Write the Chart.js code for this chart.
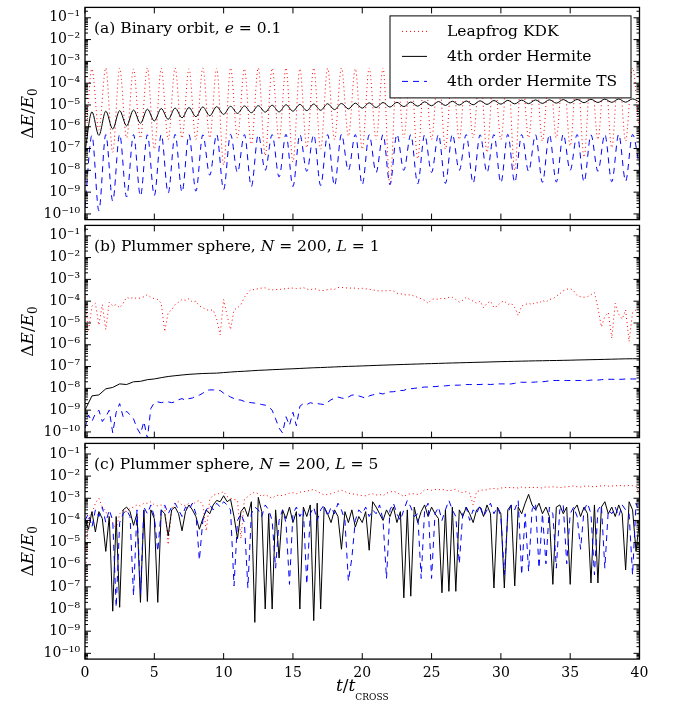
<!DOCTYPE html>
<html>
<head>
<meta charset="utf-8">
<title>Energy error</title>
<script src="https://cdn.jsdelivr.net/npm/chart.js@4.4.1/dist/chart.umd.min.js"></script>
<style>
  body { margin: 0; background: #fff; }
  #wrap { position: relative; width: 674px; height: 706px; overflow: hidden; }
  #wrap canvas { position: absolute; left: 0; }
</style>
</head>
<body>
<div id="wrap">
  <canvas id="panelA"></canvas>
  <canvas id="panelB"></canvas>
  <canvas id="panelC"></canvas>
</div>
<script>
// ---- data ----
const seriesNames = ["Leapfrog KDK", "4th order Hermite", "4th order Hermite TS"];
const xTicks = [0, 5, 10, 15, 20, 25, 30, 35, 40];
const yTicks = [1e-1, 1e-2, 1e-3, 1e-4, 1e-5, 1e-6, 1e-7, 1e-8, 1e-9, 1e-10];
const yTickLabels = ["10⁻¹", "10⁻²", "10⁻³", "10⁻⁴", "10⁻⁵", "10⁻⁶", "10⁻⁷", "10⁻⁸", "10⁻⁹", "10⁻¹⁰"];

// panel titles, [text, style] pieces ('i' = italic)
const panelTitles = [
  [["(a) Binary orbit, ", "r"], ["e", "i"], [" = 0.1", "r"]],
  [["(b) Plummer sphere, ", "r"], ["N", "i"], [" = 200, ", "r"], ["L", "i"], [" = 1", "r"]],
  [["(c) Plummer sphere, ", "r"], ["N", "i"], [" = 200, ", "r"], ["L", "i"], [" = 5", "r"]]
];
const yTitle = [["Δ", "r"], ["E", "i"], ["/", "r"], ["E", "i"], ["0", "sub"]];
const xTitle = [["t", "i"], ["/", "r"], ["t", "i"], ["CROSS", "small"]];

// sample times in t_cross
const tHalf = Array.from({ length: 81 }, (_, i) => i * 0.5);
const tQuarter = Array.from({ length: 161 }, (_, i) => i * 0.25);

// (a) binary orbit, sampled every 0.5
const aLeapfrog = [
  5e-8, 4.5e-4, 7e-7, 5e-4, 6.7e-8, 5e-4, 3.1e-7, 4.5e-4, 3e-7, 5e-4,
  9.4e-8, 4.8e-4, 2.6e-7, 5e-4, 3e-7, 4.6e-4, 2.6e-7, 5e-4, 3.1e-7, 4.8e-4,
  1.8e-8, 5e-4, 3.1e-7, 4.6e-4, 1.6e-7, 5e-4, 4.8e-8, 4.8e-4, 2.6e-7, 5e-4,
  2.4e-8, 4.6e-4, 1.1e-7, 5e-4, 9.4e-8, 4.8e-4, 2.6e-7, 5e-4, 3.7e-7, 4.6e-4,
  9.4e-8, 5e-4, 2.6e-7, 5e-4, 2.2e-9, 4.8e-4, 3.1e-7, 5e-4, 3.4e-8, 4.6e-4,
  2.6e-7, 5e-4, 9.4e-8, 4.8e-4, 2.6e-7, 5e-4, 3.1e-7, 4.6e-4, 6.7e-8, 5e-4,
  2.6e-7, 4.8e-4, 1e-8, 5e-4, 3.1e-7, 4.6e-4, 2.2e-7, 5e-4, 3.1e-7, 4.8e-4,
  1.3e-7, 5e-4, 4e-8, 4.6e-4, 2.6e-7, 5e-4, 1.1e-7, 4.8e-4, 2.2e-7, 5e-4,
  3.7e-7
];
const aHermite = [
  7e-8, 4.8e-6, 4e-7, 5.2e-6, 7.9e-7, 5.5e-6, 1.1e-6, 5.9e-6, 1.45e-6, 6.4e-6,
  1.85e-6, 6.9e-6, 2.2e-6, 7.2e-6, 2.6e-6, 7.6e-6, 2.9e-6, 8.1e-6, 3.2e-6, 8.4e-6,
  3.7e-6, 8.7e-6, 4.1e-6, 9e-6, 4.4e-6, 9.3e-6, 4.7e-6, 9.7e-6, 4.8e-6, 1.02e-5,
  5.2e-6, 1.06e-5, 5.5e-6, 1.1e-5, 5.7e-6, 1.14e-5, 6.1e-6, 1.18e-5, 6.6e-6, 1.22e-5,
  7.1e-6, 1.26e-5, 7.6e-6, 1.3e-5, 8e-6, 1.33e-5, 8.4e-6, 1.37e-5, 8.8e-6, 1.4e-5,
  9.2e-6, 1.44e-5, 9.5e-6, 1.48e-5, 9.9e-6, 1.52e-5, 1.02e-5, 1.55e-5, 1.06e-5, 1.6e-5,
  1.09e-5, 1.63e-5, 1.12e-5, 1.67e-5, 1.15e-5, 1.7e-5, 1.18e-5, 1.73e-5, 1.21e-5, 1.77e-5,
  1.24e-5, 1.8e-5, 1.27e-5, 1.83e-5, 1.3e-5, 1.86e-5, 1.32e-5, 1.88e-5, 1.34e-5, 1.9e-5,
  1.36e-5
];
const aHermiteTS = [
  2e-10, 4e-7, 1.4e-10, 4.4e-7, 3.9e-10, 4.5e-7, 6e-10, 4.4e-7, 6.6e-10, 4.3e-7,
  7e-10, 4.4e-7, 9e-10, 4.5e-7, 1e-9, 4.4e-7, 1.1e-9, 4.3e-7, 6e-9, 4.4e-7,
  1.3e-9, 4.5e-7, 8e-9, 4.4e-7, 1.8e-9, 4.3e-7, 1e-8, 4.4e-7, 5e-9, 4.5e-7,
  1.8e-9, 4.4e-7, 9e-9, 4.3e-7, 2e-9, 4.4e-7, 2e-9, 4.5e-7, 1e-8, 4.4e-7,
  2.2e-9, 4.3e-7, 8e-9, 4.4e-7, 2.2e-9, 4.5e-7, 1e-8, 4.4e-7, 2.4e-9, 4.3e-7,
  8e-9, 4.4e-7, 2.5e-9, 4.5e-7, 1e-8, 4.4e-7, 2.6e-9, 4.3e-7, 8e-9, 4.4e-7,
  2.7e-9, 4.5e-7, 2.8e-9, 4.4e-7, 9e-9, 4.3e-7, 2.8e-9, 4.4e-7, 2.9e-9, 4.5e-7,
  1e-8, 4.4e-7, 3e-9, 4.3e-7, 9e-9, 4.4e-7, 3e-9, 4.5e-7, 3.2e-9, 4.4e-7,
  1.5e-8
];

// (b) Plummer sphere N=200, L=1
const bLeapfrog = [
  1.5e-4, 4e-6, 6e-5, 8e-5, 7.9e-6, 7e-5, 5e-6, 9e-5, 6e-5, 7e-5, 5e-5, 8e-5, 1.5e-4, 1.3e-4, 1.5e-4, 1.3e-4, 1.4e-4, 1.6e-4, 2e-4, 1.5e-4,
  1.3e-4, 1.2e-4, 8e-5, 4e-6, 3e-5, 4e-5, 7e-5, 9e-5, 1.2e-4, 1.1e-4, 1.3e-4, 9e-5, 1e-4, 6e-5, 5e-5, 4e-5, 3.8e-5, 4e-5, 1.5e-5, 2.8e-6,
  1.2e-4, 2.2e-5, 5e-6, 4e-5, 5e-5, 7e-5, 1.5e-4, 2.5e-4, 3.5e-4, 3.3e-4, 3.8e-4, 4e-4, 4.1e-4, 3.5e-4, 3.3e-4, 3.5e-4, 3.3e-4, 3.8e-4, 3.6e-4, 4e-4,
  4e-4, 3.8e-4, 3.9e-4, 4.2e-4, 3.6e-4, 3.3e-4, 3.8e-4, 3.5e-4, 3e-4, 3.1e-4, 3.4e-4, 3.6e-4, 3.5e-4, 4.2e-4, 4.3e-4, 4e-4, 4.1e-4, 3.9e-4, 4e-4, 3.7e-4,
  3.9e-4, 3.7e-4, 3.5e-4, 3.3e-4, 3.1e-4, 2.9e-4, 3e-4, 3e-4, 3.1e-4, 2.9e-4, 2.3e-4, 2.2e-4, 2e-4, 1.9e-4, 2e-4, 1.7e-4, 1.5e-4, 1.3e-4, 1.1e-4, 8e-5,
  1.2e-4, 1.3e-4, 1.2e-4, 1.4e-4, 1.3e-4, 1.5e-4, 1.5e-4, 1.2e-4, 9e-5, 1.1e-4, 1.5e-4, 1.2e-4, 1e-4, 8e-5, 1e-4, 5e-5, 8e-5, 1e-4, 5e-5, 6e-5,
  9e-5, 1e-4, 7e-5, 8e-5, 5e-5, 2.2e-5, 6e-5, 7e-5, 8e-5, 7e-5, 9e-5, 8e-5, 1.1e-4, 9e-5, 1.2e-4, 1.3e-4, 1.7e-4, 2.2e-4, 3e-4, 3.5e-4,
  3.8e-4, 3e-4, 1.8e-4, 1.6e-4, 1.5e-4, 1.6e-4, 2e-4, 2.5e-4, 5e-5, 6.6e-6, 2e-5, 3e-5, 2e-6, 8e-5, 2.5e-5, 1.5e-5, 4e-5, 1.4e-6, 3e-5, 4e-5,
  6e-5
];
const bHermite = [
  1e-9, 4.5e-9, 5e-9, 9.5e-9, 1.1e-8, 1.6e-8, 1.5e-8, 2e-8, 2.1e-8, 2.5e-8,
  2.7e-8, 3.1e-8, 3.5e-8, 3.8e-8, 4.1e-8, 4.4e-8, 4.6e-8, 4.8e-8, 4.9e-8, 5e-8,
  5.3e-8, 5.6e-8, 5.9e-8, 6.1e-8, 6.4e-8, 6.7e-8, 6.9e-8, 7.2e-8, 7.4e-8, 7.7e-8,
  7.9e-8, 8.2e-8, 8.5e-8, 8.8e-8, 9e-8, 9.3e-8, 9.6e-8, 9.9e-8, 1.02e-7, 1.04e-7,
  1.07e-7, 1.1e-7, 1.13e-7, 1.16e-7, 1.19e-7, 1.22e-7, 1.25e-7, 1.28e-7, 1.31e-7, 1.34e-7,
  1.37e-7, 1.4e-7, 1.43e-7, 1.46e-7, 1.49e-7, 1.52e-7, 1.55e-7, 1.58e-7, 1.61e-7, 1.65e-7,
  1.68e-7, 1.71e-7, 1.74e-7, 1.77e-7, 1.8e-7, 1.83e-7, 1.85e-7, 1.88e-7, 1.9e-7, 1.93e-7,
  1.96e-7, 2e-7, 2.03e-7, 2.07e-7, 2.1e-7, 2.14e-7, 2.18e-7, 2.22e-7, 2.26e-7, 2.28e-7,
  2.3e-7
];
const bHermiteTS = [
  1.5e-10, 6e-10, 3e-10, 7e-10, 1e-9, 3e-10, 5e-10, 1e-9, 9e-11, 8e-10, 2e-9, 5e-10, 9e-10, 6e-10, 4e-10, 1.5e-10, 8e-11, 3e-10, 5e-11, 1.2e-9,
  2.2e-9, 2.4e-9, 2.2e-9, 2.4e-9, 2.4e-9, 2.2e-9, 2.4e-9, 3e-9, 3.4e-9, 2.8e-9, 3.4e-9, 3.6e-9, 4.5e-9, 4.9e-9, 6e-9, 8e-9, 8.5e-9, 8.5e-9, 8.1e-9, 8e-9,
  6e-9, 5e-9, 4e-9, 3.4e-9, 3e-9, 2.9e-9, 2.5e-9, 2.3e-9, 2.2e-9, 2.1e-9, 2e-9, 1.8e-9, 1.7e-9, 1.4e-9, 1e-9, 4e-10, 1.5e-10, 9e-11, 5e-10, 2e-10,
  8e-10, 1.9e-10, 1.5e-9, 2e-9, 1.8e-9, 2.2e-9, 2e-9, 2e-9, 1.9e-9, 1.8e-9, 2.3e-9, 3e-9, 3.5e-9, 4e-9, 3.6e-9, 3.4e-9, 4e-9, 4.9e-9, 5e-9, 4.5e-9,
  4e-9, 3.5e-9, 4.5e-9, 5e-9, 5.5e-9, 6e-9, 5.5e-9, 6.5e-9, 6.9e-9, 7e-9, 7.5e-9, 8e-9, 8e-9, 9.6e-9, 9.6e-9, 1e-8, 1.05e-8, 1.1e-8, 1.15e-8, 1.15e-8,
  1.2e-8, 1.2e-8, 1.25e-8, 1.3e-8, 1.3e-8, 1.36e-8, 1.36e-8, 1.4e-8, 1.4e-8, 1.45e-8, 1.5e-8, 1.5e-8, 1.5e-8, 1.5e-8, 1.5e-8, 1.55e-8, 1.55e-8, 1.5e-8, 1.55e-8, 1.6e-8,
  1.6e-8, 1.6e-8, 1.55e-8, 1.6e-8, 1.7e-8, 1.9e-8, 1.9e-8, 1.9e-8, 1.9e-8, 1.9e-8, 1.95e-8, 2e-8, 2e-8, 2.1e-8, 2.2e-8, 2.3e-8, 2.3e-8, 2.3e-8, 2.3e-8, 2.3e-8,
  2.3e-8, 2.3e-8, 2.3e-8, 2.3e-8, 2.3e-8, 2.3e-8, 2.4e-8, 2.4e-8, 2.4e-8, 2.5e-8, 2.6e-8, 2.6e-8, 2.6e-8, 2.6e-8, 2.6e-8, 2.6e-8, 2.7e-8, 2.7e-8, 2.7e-8, 2.7e-8,
  2.7e-8
];

// (c) Plummer sphere N=200, L=5
const cLeapfrog = [
  1e-7, 1.5e-4, 2e-4, 6e-4, 1e-3, 4e-4, 2.5e-4, 1.1e-4, 8e-5, 4e-5, 2e-4, 3e-4, 2.5e-4, 3.5e-4, 4e-4, 5e-4, 4.5e-4, 6e-4, 6e-4, 7e-4,
  5e-4, 4.5e-4, 5e-4, 4e-4, 8e-6, 3e-4, 6e-4, 7e-4, 5e-4, 4.5e-4, 6e-4, 5e-4, 7e-4, 8e-4, 5e-4, 3.4e-5, 9e-4, 1.4e-3, 1.5e-3, 1.7e-3,
  2e-3, 1.2e-3, 1e-3, 9e-4, 8e-4, 1.5e-5, 9e-4, 1.2e-3, 1.6e-3, 1.9e-3, 1.6e-3, 1.2e-3, 1.5e-3, 1.2e-3, 1e-3, 1.3e-3, 1.4e-3, 1.3e-3, 1.5e-3, 1.7e-3,
  1.8e-3, 1.6e-3, 1.9e-3, 2e-3, 2.1e-3, 2.3e-3, 2.5e-3, 2e-3, 1.7e-3, 1.4e-3, 1.5e-3, 1.6e-3, 1.8e-3, 2.1e-3, 2.3e-3, 2e-3, 1.7e-3, 1.6e-3, 1.5e-3, 1.4e-3,
  1.3e-3, 1.3e-3, 1.5e-3, 1.6e-3, 1.4e-3, 1.5e-3, 1.3e-3, 1.7e-3, 1.9e-3, 2.1e-3, 1.8e-3, 1.5e-3, 1.2e-3, 1.5e-3, 1.6e-3, 1.6e-3, 1.5e-3, 1.7e-3, 2.4e-3, 2.5e-3,
  2.3e-3, 2.5e-3, 2.4e-3, 2.6e-3, 2.3e-3, 2.2e-3, 2.3e-3, 2.6e-3, 2e-3, 1.8e-3, 2e-3, 1.7e-3, 5e-4, 2e-3, 2.2e-3, 2.4e-3, 2.4e-3, 2.7e-3, 2.8e-3, 2.6e-3,
  2.9e-3, 3e-3, 3.1e-3, 3e-3, 3e-3, 2.9e-3, 3.2e-3, 3e-3, 3.1e-3, 3e-3, 3.2e-3, 3e-3, 2.9e-3, 3.3e-3, 3.2e-3, 3.3e-3, 3.2e-3, 3e-3, 3.2e-3, 3.3e-3,
  3.4e-3, 3.6e-3, 3.3e-3, 3.2e-3, 3.5e-3, 3.6e-3, 3.4e-3, 3.3e-3, 3.5e-3, 3.6e-3, 3.7e-3, 3.5e-3, 3.6e-3, 3.6e-3, 3.8e-3, 3.7e-3, 3.6e-3, 3.8e-3, 3.7e-3, 3.6e-3,
  1.5e-3
];
const cHermite = [
  1.1e-4, 4e-5, 2.5e-4, 3e-5, 2.5e-4, 1.2e-4, 4e-6, 1.5e-4, 8e-9, 1.5e-4, 1.2e-8, 3e-4, 4e-4, 2.5e-4, 6e-5, 2e-4, 2e-8, 3e-4, 2.2e-8, 3e-4,
  1.2e-4, 2e-8, 3e-4, 2e-4, 2e-5, 3e-4, 4e-4, 2e-4, 3.4e-5, 2.5e-4, 5e-4, 3e-4, 1.5e-4, 4e-5, 1.2e-4, 3e-4, 2e-4, 5e-4, 8e-4, 7e-4,
  1.3e-3, 7e-4, 9e-4, 1.5e-4, 1.5e-5, 2.5e-4, 4e-4, 1.5e-4, 7e-4, 2.5e-9, 1.1e-3, 2.5e-4, 1e-8, 2e-4, 1e-8, 3e-4, 2e-6, 3e-4, 1.2e-4, 4e-4,
  8e-5, 2.5e-4, 1e-8, 4e-4, 1.5e-4, 5e-4, 3e-9, 6e-4, 1e-8, 4e-4, 2e-4, 8e-5, 3e-4, 1.5e-4, 5e-6, 2.5e-4, 8e-5, 3e-4, 5e-5, 1.5e-4,
  8e-5, 2.5e-4, 4.5e-6, 7e-4, 4e-4, 2e-4, 1e-4, 3e-4, 1.5e-4, 4e-4, 8e-5, 2.5e-4, 3.2e-8, 3e-4, 3.8e-8, 4e-4, 8e-5, 2.5e-4, 5e-4, 1.5e-4,
  4e-4, 2e-4, 1.2e-4, 5.4e-8, 3e-4, 6.3e-8, 4e-4, 6.3e-8, 3e-4, 1.5e-4, 4e-4, 2e-4, 8e-5, 3e-4, 4e-4, 1.5e-4, 5e-4, 2e-4, 8.9e-8, 4e-4,
  2e-4, 8.9e-8, 3e-4, 5e-4, 1.1e-7, 4e-4, 2e-4, 6e-4, 1.5e-3, 5e-4, 3e-4, 6e-4, 2e-4, 4e-4, 1.5e-4, 1.3e-7, 4e-4, 5e-4, 2e-4, 4e-4,
  1.3e-7, 3e-4, 5e-4, 1.5e-4, 4e-4, 2e-4, 1.5e-7, 5e-4, 1.5e-7, 4e-4, 7e-4, 2e-4, 4e-4, 1.5e-4, 5e-4, 2e-4, 5.8e-7, 7e-4, 3e-4, 4e-6,
  1e-4
];
const cHermiteTS = [
  1e-4, 2e-4, 5e-5, 3e-4, 1.5e-4, 4e-4, 8e-5, 3e-4, 1e-4, 1.2e-8, 8e-5, 2e-4, 3e-4, 1.5e-4, 4e-8, 3e-4, 5e-8, 4e-4, 2e-4, 5e-4,
  1.5e-4, 4e-6, 3e-4, 5e-4, 2e-4, 4e-4, 6e-4, 3e-4, 1.5e-4, 4e-4, 3e-4, 6e-4, 2e-4, 1.6e-6, 1e-4, 3e-4, 5e-4, 3e-4, 6e-4, 4e-4,
  7e-4, 5e-4, 3e-4, 1.1e-7, 1e-4, 2e-4, 8e-5, 9e-8, 2e-4, 4e-4, 3e-4, 1.5e-4, 5e-4, 3e-4, 1e-4, 7e-7, 1e-4, 3e-4, 8e-5, 1.3e-7,
  2e-4, 4e-4, 1.5e-4, 3e-4, 1.3e-7, 2e-4, 4e-4, 1e-4, 3e-4, 5e-4, 1.5e-4, 4e-4, 2e-4, 6e-4, 3e-4, 1e-4, 1.8e-7, 2e-6, 1e-4, 3e-4,
  2e-4, 4e-4, 1.5e-4, 3e-4, 2e-4, 5e-4, 1e-4, 2.4e-7, 3e-4, 6e-4, 2e-4, 1e-4, 3e-4, 8e-4, 4e-4, 1.5e-4, 2e-4, 2.4e-7, 3e-4, 6e-4,
  2.4e-7, 2e-4, 4e-4, 1e-4, 3e-4, 8e-4, 3e-4, 1.5e-4, 1.1e-6, 2e-4, 4e-4, 1e-4, 3e-4, 2e-4, 5e-4, 1.5e-4, 3e-4, 6e-4, 2e-4, 4e-4,
  1.5e-4, 3.5e-7, 2e-4, 5e-4, 3e-4, 8e-4, 3.5e-7, 2e-4, 5e-7, 3e-4, 6e-4, 7e-7, 2e-4, 1.1e-6, 4e-4, 2e-4, 7e-7, 3e-4, 5e-4, 1.1e-6,
  2e-4, 4e-4, 1.5e-4, 5e-6, 3e-4, 6e-4, 2e-4, 3.5e-7, 3e-4, 5e-4, 7e-7, 3e-4, 2e-4, 4e-4, 1.5e-4, 5e-4, 3e-4, 2e-4, 3.5e-7, 6e-4,
  2e-4
];

// ---- layout / style ----
const W = 674, H = 706;
const PLOT_LEFT = 85, PLOT_RIGHT = 639.5, PLOT_TOP = 4.5, PANEL_H = 218.2, PAD = 10;
const Y_MIN = 5.5e-11, Y_MAX = 0.3;
const SERIF = "'DejaVu Serif', serif";

Chart.defaults.font.family = SERIF;
Chart.defaults.color = "#000";

const lineStyles = [
  { borderColor: "#ff0000", borderDash: [1, 3], order: 3 },
  { borderColor: "#000000", borderDash: [], order: 2 },
  { borderColor: "#0000ff", borderDash: [6, 5], order: 1 }
];

function pts(ts, vals) {
  return ts.map((t, i) => ({ x: t, y: vals[i] }));
}

function partFont(style, size) {
  if (style === "i") return "italic " + size + "px " + SERIF;
  if (style === "sub") return Math.round(size * 0.7) + "px " + SERIF;
  if (style === "small") return Math.round(size * 0.55) + "px " + SERIF;
  return size + "px " + SERIF;
}

function richWidth(ctx, parts, size) {
  let w = 0;
  for (const [text, style] of parts) {
    ctx.font = partFont(style, size);
    w += ctx.measureText(text).width;
  }
  return w;
}

function drawRich(ctx, parts, x, y, size) {
  let cx = x;
  for (const [text, style] of parts) {
    ctx.font = partFont(style, size);
    const dy = style === "sub" ? size * 0.25 : style === "small" ? size * 0.5 : 0;
    ctx.fillText(text, cx, y + dy);
    cx += ctx.measureText(text).width;
  }
}

function drawLegend(chart) {
  const { ctx, chartArea: a } = chart;
  const bw = 241, bh = 82;
  const bx = a.right - 8.5 - bw, by = a.top + 8.5;
  ctx.fillStyle = "#fff";
  ctx.fillRect(bx, by, bw, bh);
  ctx.strokeStyle = "#000";
  ctx.lineWidth = 1;
  ctx.setLineDash([]);
  ctx.strokeRect(bx, by, bw, bh);
  chart.data.datasets.forEach((ds, i) => {
    const ry = by + 15.5 + i * 25;
    ctx.strokeStyle = ds.borderColor;
    ctx.setLineDash(ds.borderDash);
    ctx.beginPath();
    ctx.moveTo(bx + 12, ry);
    ctx.lineTo(bx + 37, ry);
    ctx.stroke();
    ctx.setLineDash([]);
    ctx.fillStyle = "#000";
    ctx.font = "15.5px " + SERIF;
    ctx.textBaseline = "middle";
    ctx.fillText(ds.label, bx + 57, ry + 1);
  });
}

const panelDeco = {
  id: "panelDeco",
  afterDatasetsDraw(chart, args, opts) {
    const { ctx, chartArea: a, scales: { x, y } } = chart;
    ctx.save();
    ctx.strokeStyle = "#000";
    ctx.lineWidth = 1;
    ctx.setLineDash([]);
    ctx.beginPath();
    const tickY = (v, len) => {
      const p = y.getPixelForValue(v);
      ctx.moveTo(a.left, p); ctx.lineTo(a.left + len, p);
      ctx.moveTo(a.right, p); ctx.lineTo(a.right - len, p);
    };
    yTicks.forEach(v => tickY(v, 6));
    for (let k = -11; k <= 0; k++) {
      for (let m = 2; m <= 9; m++) {
        const v = m * Math.pow(10, k);
        if (v > Y_MIN && v < Y_MAX) tickY(v, 3);
      }
    }
    xTicks.forEach(v => {
      const p = x.getPixelForValue(v);
      ctx.moveTo(p, a.top); ctx.lineTo(p, a.top + 6);
      ctx.moveTo(p, a.bottom); ctx.lineTo(p, a.bottom - 6);
    });
    ctx.stroke();
    ctx.lineWidth = 1.3;
    ctx.strokeRect(a.left, a.top, a.right - a.left, a.bottom - a.top);

    // panel label
    ctx.fillStyle = "#000";
    ctx.textBaseline = "alphabetic";
    drawRich(ctx, panelTitles[opts.index], a.left + 9, a.top + 25.5, 15.5);

    // y axis title, rotated
    ctx.save();
    ctx.translate(33, (a.top + a.bottom) / 2);
    ctx.rotate(-Math.PI / 2);
    const yw = richWidth(ctx, yTitle, 17);
    drawRich(ctx, yTitle, -yw / 2, 0, 17);
    ctx.restore();

    if (opts.xTitle) {
      const xw = richWidth(ctx, xTitle, 17);
      drawRich(ctx, xTitle, (a.left + a.right) / 2 - xw / 2, a.bottom + 32, 17);
    }
    if (opts.legend) drawLegend(chart);
    ctx.restore();
  }
};

function makePanel(canvasId, index, seriesData, smooth) {
  const canvas = document.getElementById(canvasId);
  const last = index === 2;
  const areaTop = PLOT_TOP + index * PANEL_H;
  const top = Math.floor(areaTop - PAD);
  const padTop = areaTop - top;
  const height = last ? H - top : Math.ceil(areaTop + PANEL_H + PAD) - top;
  const padBottom = height - padTop - PANEL_H;
  canvas.width = W;
  canvas.height = height;
  canvas.style.top = top + "px";

  const datasets = seriesData.map((d, i) => Object.assign({
    label: seriesNames[i],
    data: d,
    borderWidth: 1,
    pointRadius: 0,
    fill: false,
    cubicInterpolationMode: smooth ? "monotone" : "default",
    tension: 0
  }, lineStyles[i]));

  return new Chart(canvas, {
    type: "line",
    data: { datasets },
    options: {
      responsive: false,
      animation: false,
      devicePixelRatio: 1,
      events: [],
      layout: { padding: { left: 0, right: W - PLOT_RIGHT, top: padTop, bottom: last ? 0 : padBottom } },
      plugins: {
        legend: { display: false },
        tooltip: { enabled: false },
        panelDeco: { index: index, legend: index === 0, xTitle: last }
      },
      scales: {
        x: {
          type: "linear", min: 0, max: 40,
          afterBuildTicks: s => { s.ticks = xTicks.map(v => ({ value: v })); },
          afterFit: s => { s.height = last ? padBottom : 0; },
          ticks: { display: last, padding: 6, maxRotation: 0, autoSkip: false, font: { size: 14 } },
          grid: { display: false, drawTicks: false },
          border: { display: false }
        },
        y: {
          type: "logarithmic", min: Y_MIN, max: Y_MAX,
          afterBuildTicks: s => { s.ticks = yTicks.map(v => ({ value: v })); },
          afterFit: s => { s.width = PLOT_LEFT; },
          ticks: { autoSkip: false, padding: 5, font: { size: 14 }, callback: (v, i) => yTickLabels[i] },
          grid: { display: false, drawTicks: false },
          border: { display: false }
        }
      }
    },
    plugins: [panelDeco]
  });
}

makePanel("panelA", 0, [pts(tHalf, aLeapfrog), pts(tHalf, aHermite), pts(tHalf, aHermiteTS)], true);
makePanel("panelB", 1, [pts(tQuarter, bLeapfrog), pts(tHalf, bHermite), pts(tQuarter, bHermiteTS)], false);
makePanel("panelC", 2, [pts(tQuarter, cLeapfrog), pts(tQuarter, cHermite), pts(tQuarter, cHermiteTS)], false);
</script>
</body>
</html>
